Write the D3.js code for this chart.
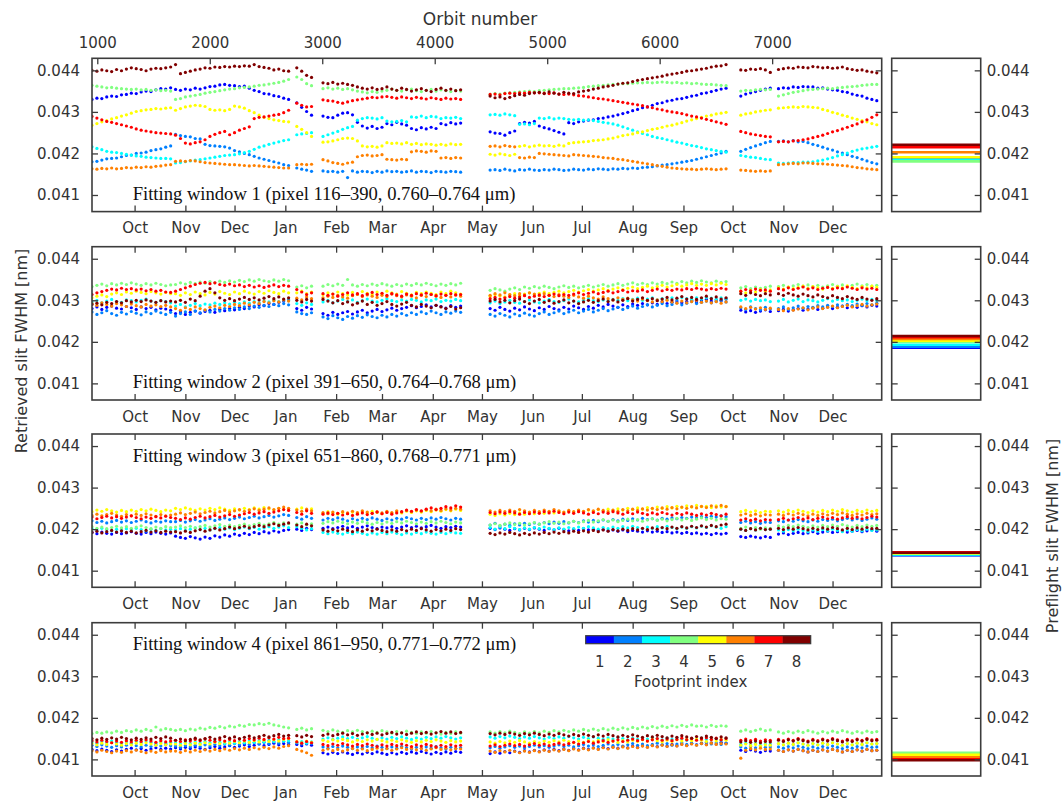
<!DOCTYPE html>
<html>
<head>
<meta charset="utf-8">
<script src="https://cdn.jsdelivr.net/npm/d3@7"></script>
<style>
  body { margin: 0; background: #fff; }
  text { font-family: "DejaVu Sans", sans-serif; fill: #333; }
</style>
</head>
<body>
<svg id="chart" width="1064" height="803"></svg>
<script>
// ---------------------------------------------------------------
// Observation periods (days since 2014-09-05), sampled every 3 days
// ---------------------------------------------------------------
const periods = [[0, 48], [51, 120], [125, 134], [141, 225], [243, 387], [396, 414], [419, 479]];
const sampleStep = 3;
const startDate = new Date(2014, 8, 5);
const endDate = new Date(2015, 11, 31);

const orbitDomain = [953, 7974];
const orbitTicks = [1000, 2000, 3000, 4000, 5000, 6000, 7000];
const monthTicks = ["2014-10-01", "2014-11-01", "2014-12-01", "2015-01-01", "2015-02-01", "2015-03-01",
  "2015-04-01", "2015-05-01", "2015-06-01", "2015-07-01", "2015-08-01", "2015-09-01",
  "2015-10-01", "2015-11-01", "2015-12-01"];
const monthLabels = ["Oct", "Nov", "Dec", "Jan", "Feb", "Mar", "Apr", "May", "Jun", "Jul", "Aug", "Sep", "Oct", "Nov", "Dec"];
const yTicks = [0.041, 0.042, 0.043, 0.044];

const footprints = [1, 2, 3, 4, 5, 6, 7, 8];
const footprintColors = ["#0000ff", "#0080ff", "#00ffff", "#80ff80", "#ffff00", "#ff8000", "#ff0000", "#800000"];

const windowLabels = [
  "Fitting window 1 (pixel 116–390, 0.760–0.764 μm)",
  "Fitting window 2 (pixel 391–650, 0.764–0.768 μm)",
  "Fitting window 3 (pixel 651–860, 0.768–0.771 μm)",
  "Fitting window 4 (pixel 861–950, 0.771–0.772 μm)"
];

// Retrieved slit FWHM, units of 1e-5 nm; one sub-array per observation period
const valueUnit = 1e-5;

// ---- Fitting window 1 ----
const w1f1 = [
  [4330,4333,4332,4336,4338,4337,4341,4342,4345,4344,4348,4350,4349,4353,4356,4355,4358],
  [4354,4352,4355,4353,4357,4355,4358,4361,4362,4365,4366,4364,4363,4361,4362,4357,4352,4349,4344,4343,4339,4337,4333,4330],
  [4322,4311,4301,4292],
  [4290,4287,4286,4292,4297,4298,4293,4275,4266,4261,4265,4260,4263,4272,4269,4275,4271,4268,4260,4257,4262,4259,4263,4260,4272,4269,4274,4271,4273],
  [4252,4249,4248,4244,4250,4254,4272,4275,4273,4277,4266,4262,4259,4255,4251,4247,4274,4272,4276,4278,
   4280,4281,4284,4285,4288,4290,4293,4296,4299,4303,4306,4310,4312,4316,4320,4322,4326,4328,4331,4332,
   4335,4338,4340,4344,4346,4349,4352,4355,4357],
  [4338,4343,4346,4349,4352,4355,4357],
  [4356,4358,4357,4360,4359,4361,4360,4360,4357,4358,4355,4353,4352,4349,4347,4343,4340,4338,4333,4330,4327]
];
const w1f2 = [
  [4180,4181,4184,4187,4188,4189,4192,4195,4196,4200,4201,4203,4207,4209,4211,4215,4218],
  [4246,4243,4241,4240,4236,4235,4222,4219,4218,4217,4216,4213,4207,4204,4200,4197,4193,4189,4186,4183,4180,4177,4173,4171],
  [4165,4162,4160,4157],
  [4158,4156,4157,4155,4157,4142,4158,4155,4157,4156,4154,4157,4155,4158,4156,4157,4155,4156,4158,4155,4157,4156,4154,4157,4156,4155,4157,4156,4155],
  [4160,4161,4159,4162,4160,4158,4161,4160,4162,4160,4159,4161,4160,4162,4161,4159,4160,4162,4161,4160,
   4162,4161,4163,4162,4161,4163,4162,4164,4163,4165,4164,4166,4167,4168,4170,4172,4173,4175,4177,4179,
   4181,4183,4186,4189,4192,4195,4198,4201,4205],
  [4205,4210,4214,4218,4222,4226,4229],
  [4229,4230,4228,4231,4228,4229,4226,4222,4219,4215,4211,4208,4204,4201,4197,4193,4190,4186,4182,4178,4175]
];
const w1f3 = [
  [4216,4212,4209,4205,4203,4202,4200,4198,4196,4194,4193,4191,4190,4189,4188,4188,4187],
  [4177,4178,4180,4182,4184,4185,4187,4189,4191,4193,4195,4196,4197,4199,4202,4205,4210,4215,4218,4222,4225,4228,4231,4233],
  [4245,4247,4248,4250],
  [4241,4245,4249,4253,4258,4262,4265,4280,4284,4286,4285,4283,4286,4278,4276,4277,4279,4276,4288,4287,4290,4286,4289,4288,4284,4286,4285,4287,4284],
  [4293,4294,4292,4295,4293,4291,4270,4271,4269,4272,4285,4284,4286,4283,4285,4284,4282,4281,4282,4280,
   4281,4279,4277,4275,4273,4271,4268,4264,4260,4256,4252,4248,4245,4241,4238,4236,4233,4230,4227,4225,
   4222,4219,4217,4214,4211,4209,4207,4205,4203],
  [4195,4193,4191,4190,4188,4186,4185],
  [4177,4176,4177,4178,4178,4179,4179,4180,4182,4184,4187,4190,4194,4197,4201,4205,4208,4211,4213,4215,4217]
];
const w1f4 = [
  [4364,4362,4360,4358,4359,4357,4356,4355,4354,4355,4353,4354,4352,4353,4351,4352,4350],
  [4330,4332,4336,4338,4340,4342,4345,4347,4349,4351,4353,4355,4356,4358,4359,4360,4362,4364,4365,4367,4369,4371,4374,4378],
  [4384,4378,4368,4363],
  [4356,4358,4355,4357,4354,4356,4353,4350,4348,4346,4349,4347,4350,4352,4355,4352,4350,4353,4355,4351,4349,4352,4354,4350,4353,4351,4349,4352,4350],
  [4342,4344,4343,4345,4346,4347,4348,4349,4350,4349,4351,4352,4353,4354,4355,4356,4356,4357,4358,4359,
   4361,4362,4363,4364,4365,4366,4367,4368,4368,4369,4370,4370,4371,4370,4371,4372,4371,4370,4371,4369,
   4370,4368,4369,4367,4366,4366,4365,4364,4363],
  [4350,4352,4351,4353,4354,4353,4354],
  [4338,4341,4344,4347,4349,4351,4353,4354,4355,4356,4357,4356,4358,4359,4360,4361,4362,4364,4365,4366,4366]
];
const w1f5 = [
  [4268,4272,4276,4279,4283,4286,4290,4293,4297,4301,4303,4305,4306,4308,4307,4309,4310],
  [4304,4308,4312,4314,4316,4315,4313,4306,4304,4305,4303,4306,4314,4312,4309,4303,4298,4292,4287,4284,4281,4279,4277,4276],
  [4265,4258,4250,4241],
  [4227,4228,4230,4233,4236,4237,4236,4230,4218,4216,4217,4215,4218,4226,4224,4225,4223,4226,4222,4224,4221,4223,4222,4220,4222,4220,4223,4221,4222],
  [4198,4196,4199,4197,4195,4198,4217,4219,4216,4218,4220,4218,4219,4217,4220,4218,4224,4226,4227,4228,
   4229,4231,4232,4233,4235,4237,4240,4243,4245,4247,4250,4252,4255,4258,4260,4263,4266,4268,4271,4274,
   4278,4281,4284,4287,4290,4292,4295,4297,4299],
  [4292,4295,4297,4300,4302,4304,4305],
  [4309,4310,4311,4312,4311,4313,4312,4311,4310,4306,4303,4299,4296,4292,4289,4285,4282,4279,4276,4272,4269]
];
const w1f6 = [
  [4163,4162,4164,4163,4165,4163,4164,4166,4165,4167,4166,4168,4167,4169,4170,4172,4173],
  [4181,4182,4181,4183,4182,4180,4178,4177,4176,4175,4174,4173,4173,4172,4171,4170,4171,4170,4169,4168,4167,4166,4165,4165],
  [4173,4174,4173,4174],
  [4185,4182,4178,4176,4174,4177,4179,4192,4195,4196,4194,4195,4197,4186,4185,4184,4186,4185,4204,4206,4205,4203,4206,4205,4189,4190,4188,4190,4189],
  [4217,4218,4216,4219,4217,4216,4190,4189,4191,4190,4200,4199,4198,4197,4196,4195,4194,4197,4196,4195,
   4194,4193,4192,4190,4189,4188,4186,4185,4183,4181,4179,4177,4175,4173,4171,4169,4167,4165,4164,4163,
   4162,4162,4161,4162,4163,4162,4161,4162,4163],
  [4160,4159,4158,4157,4158,4157,4158],
  [4173,4174,4175,4176,4175,4177,4177,4176,4175,4175,4174,4173,4172,4171,4170,4168,4166,4165,4163,4162,4161]
];
const w1f7 = [
  [4289,4285,4281,4277,4275,4272,4269,4266,4263,4259,4256,4254,4252,4250,4249,4248,4247],
  [4244,4236,4225,4223,4226,4228,4233,4241,4246,4250,4253,4245,4250,4256,4260,4264,4284,4287,4288,4290,4292,4294,4298,4304],
  [4321,4316,4312,4313],
  [4329,4327,4326,4323,4321,4324,4327,4329,4331,4333,4335,4334,4336,4337,4335,4333,4336,4334,4332,4335,4333,4331,4334,4332,4330,4333,4331,4332,4330],
  [4342,4343,4341,4344,4345,4344,4346,4345,4347,4346,4346,4345,4344,4346,4343,4342,4343,4341,4339,4338,
   4336,4334,4332,4331,4329,4327,4325,4323,4321,4319,4317,4315,4312,4310,4307,4305,4302,4300,4298,4296,
   4293,4290,4288,4285,4282,4279,4276,4273,4270],
  [4253,4250,4247,4245,4243,4241,4240],
  [4228,4229,4228,4230,4231,4233,4235,4238,4241,4244,4248,4252,4255,4259,4263,4267,4271,4276,4281,4287,4293]
];
const w1f8 = [
  [4400,4398,4401,4399,4397,4402,4399,4403,4406,4404,4402,4399,4403,4405,4404,4406,4408],
  [4414,4392,4395,4398,4401,4403,4406,4405,4408,4407,4409,4408,4410,4409,4411,4410,4414,4409,4407,4405,4401,4403,4399,4398],
  [4406,4398,4388,4383],
  [4370,4368,4371,4367,4369,4366,4364,4360,4357,4355,4358,4354,4356,4360,4355,4352,4357,4354,4350,4353,4356,4352,4349,4354,4357,4352,4355,4351,4353],
  [4338,4334,4336,4332,4335,4339,4342,4340,4344,4346,4347,4344,4348,4345,4343,4347,4345,4344,4348,4350,
   4352,4355,4357,4360,4362,4364,4367,4369,4370,4373,4376,4378,4380,4382,4384,4386,4389,4391,4393,4395,
   4398,4399,4401,4403,4405,4408,4410,4411,4414],
  [4401,4400,4403,4402,4404,4401,4395],
  [4402,4404,4406,4405,4408,4407,4406,4409,4408,4406,4407,4405,4406,4408,4404,4402,4400,4401,4398,4396,4394]
];

// ---- Fitting window 2 ----
const w2f1 = [
  [4280,4284,4278,4283,4286,4281,4279,4285,4282,4278,4284,4280,4283,4277,4281,4279,4276],
  [4268,4272,4266,4271,4274,4269,4273,4276,4271,4278,4275,4280,4277,4283,4280,4286,4284,4289,4287,4292,4290,4295,4298,4301],
  [4280,4276,4283,4279],
  [4268,4264,4271,4266,4270,4273,4267,4272,4276,4270,4274,4278,4273,4277,4281,4276,4280,4283,4287,4282,4285,4289,4284,4288,4285,4281,4287,4283,4286],
  [4280,4276,4283,4278,4274,4281,4277,4284,4279,4275,4282,4278,4285,4280,4277,4283,4279,4286,4282,4278,
   4285,4281,4288,4284,4290,4286,4283,4289,4285,4291,4288,4292,4289,4294,4290,4296,4292,4295,4298,4294,
   4297,4300,4296,4299,4302,4298,4301,4299,4303],
  [4276,4272,4275,4271,4274,4277,4273],
  [4275,4278,4274,4277,4280,4276,4279,4282,4278,4281,4284,4280,4283,4286,4282,4285,4283,4287,4284,4288,4286]
];
const w2f2 = [
  [4272,4266,4270,4275,4268,4264,4271,4267,4273,4269,4265,4272,4268,4274,4270,4266,4271],
  [4262,4268,4272,4266,4274,4270,4276,4272,4278,4274,4280,4276,4282,4278,4284,4280,4286,4283,4288,4285,4290,4287,4292,4289],
  [4272,4268,4266,4270],
  [4260,4256,4263,4258,4254,4261,4257,4263,4259,4265,4261,4258,4264,4260,4266,4262,4268,4264,4270,4266,4272,4268,4274,4270,4266,4272,4269,4274,4271],
  [4266,4262,4268,4264,4260,4267,4263,4269,4265,4262,4268,4272,4266,4270,4274,4268,4272,4276,4270,4274,
   4278,4272,4276,4280,4275,4279,4283,4278,4282,4286,4281,4285,4289,4284,4288,4292,4287,4290,4294,4289,
   4293,4297,4292,4295,4298,4294,4297,4300,4296],
  [4282,4278,4284,4280,4277,4283,4279],
  [4280,4284,4278,4282,4286,4281,4285,4283,4287,4284,4288,4285,4289,4286,4290,4287,4291,4288,4292,4289,4293]
];
const w2f3 = [
  [4296,4300,4294,4298,4302,4297,4295,4301,4299,4296,4300,4303,4298,4295,4299,4297,4294],
  [4286,4290,4284,4288,4292,4287,4291,4289,4293,4290,4294,4291,4295,4292,4296,4293,4297,4294,4298,4296,4300,4297,4301,4299],
  [4292,4288,4294,4290],
  [4296,4300,4294,4298,4302,4297,4301,4295,4299,4303,4298,4296,4300,4304,4299,4297,4301,4298,4302,4300,4296,4301,4299,4303,4297,4300,4298,4302,4299],
  [4294,4298,4292,4296,4300,4295,4293,4297,4301,4296,4294,4298,4302,4297,4295,4299,4303,4298,4296,4300,
   4304,4299,4297,4301,4298,4302,4300,4304,4299,4302,4305,4300,4303,4306,4301,4304,4302,4306,4303,4307,
   4304,4302,4306,4303,4307,4305,4302,4306,4304],
  [4300,4303,4298,4302,4299,4301,4297],
  [4298,4302,4296,4300,4303,4297,4301,4299,4296,4300,4304,4298,4302,4299,4301,4297,4300,4303,4299,4302,4300]
];
const w2f4 = [
  [4333,4336,4339,4335,4340,4337,4341,4338,4342,4339,4336,4340,4337,4341,4338,4335,4337],
  [4338,4342,4339,4343,4340,4344,4341,4345,4342,4346,4343,4347,4344,4348,4345,4349,4346,4350,4347,4345,4349,4346,4350,4347],
  [4332,4335,4330,4334],
  [4334,4338,4335,4339,4336,4350,4337,4334,4338,4335,4339,4336,4340,4337,4334,4338,4335,4339,4336,4340,4337,4341,4338,4335,4339,4336,4340,4337,4341],
  [4324,4328,4325,4322,4327,4330,4326,4332,4329,4333,4330,4334,4331,4328,4332,4335,4331,4334,4330,4333,
   4336,4332,4335,4338,4334,4337,4340,4336,4339,4342,4338,4341,4338,4342,4339,4343,4340,4344,4341,4345,
   4342,4346,4343,4347,4344,4342,4346,4343,4345],
  [4330,4333,4328,4332,4329,4331,4334],
  [4333,4336,4332,4335,4338,4334,4337,4333,4336,4332,4335,4338,4334,4337,4333,4336,4339,4335,4338,4334,4336]
];
const w2f5 = [
  [4306,4310,4313,4309,4315,4318,4314,4320,4317,4322,4319,4316,4321,4318,4315,4319,4316],
  [4316,4312,4318,4314,4320,4316,4313,4319,4315,4321,4317,4314,4320,4316,4322,4318,4315,4321,4317,4323,4319,4316,4322,4318],
  [4318,4322,4316,4320],
  [4314,4318,4315,4320,4316,4313,4319,4315,4321,4317,4314,4320,4316,4322,4318,4315,4321,4317,4313,4319,4316,4320,4317,4314,4320,4316,4322,4318,4315],
  [4310,4314,4311,4308,4313,4316,4312,4315,4318,4314,4317,4320,4316,4319,4322,4318,4321,4324,4320,4323,
   4326,4322,4325,4328,4324,4327,4330,4326,4329,4332,4328,4331,4334,4330,4333,4336,4332,4335,4338,4334,
   4337,4340,4336,4339,4336,4340,4337,4341,4338],
  [4322,4318,4324,4320,4326,4322,4325],
  [4330,4327,4332,4328,4331,4334,4329,4333,4330,4327,4332,4329,4333,4330,4335,4331,4328,4333,4330,4334,4331]
];
const w2f6 = [
  [4292,4288,4294,4290,4286,4292,4289,4285,4291,4287,4284,4290,4286,4289,4285,4288,4284],
  [4280,4276,4282,4278,4284,4280,4277,4283,4286,4282,4288,4285,4290,4287,4293,4289,4295,4292,4297,4294,4299,4296,4301,4298],
  [4305,4301,4308,4304],
  [4306,4310,4307,4312,4308,4305,4311,4314,4309,4313,4310,4307,4312,4309,4315,4311,4308,4313,4310,4306,4312,4309,4314,4310,4307,4312,4308,4313,4310],
  [4312,4316,4313,4318,4314,4311,4316,4313,4318,4315,4311,4316,4312,4309,4314,4310,4307,4312,4308,4305,
   4310,4306,4303,4308,4304,4301,4306,4302,4305,4301,4298,4303,4299,4296,4301,4297,4300,4296,4293,4298,
   4294,4297,4300,4295,4298,4294,4297,4293,4296],
  [4284,4280,4283,4279,4282,4278,4281],
  [4278,4275,4280,4276,4279,4282,4277,4281,4284,4280,4283,4286,4282,4285,4288,4284,4287,4290,4286,4289,4291]
];
const w2f7 = [
  [4314,4318,4321,4324,4327,4325,4329,4326,4328,4325,4327,4323,4326,4322,4324,4320,4319],
  [4322,4326,4330,4334,4338,4341,4343,4340,4342,4338,4336,4339,4335,4337,4333,4336,4332,4335,4331,4334,4337,4333,4336,4334],
  [4326,4320,4314,4318],
  [4316,4312,4315,4310,4314,4318,4313,4316,4311,4315,4319,4314,4317,4312,4316,4313,4310,4315,4312,4316,4313,4317,4314,4311,4315,4312,4316,4313,4314],
  [4304,4307,4303,4306,4309,4305,4308,4311,4307,4310,4313,4309,4312,4315,4311,4314,4312,4315,4318,4314,
   4317,4320,4316,4319,4322,4318,4321,4324,4320,4323,4322,4325,4321,4324,4327,4323,4326,4324,4327,4325,
   4328,4326,4329,4327,4325,4328,4326,4329,4327],
  [4322,4326,4323,4327,4324,4325,4322],
  [4328,4325,4330,4326,4329,4332,4327,4330,4326,4329,4331,4327,4330,4328,4332,4329,4326,4330,4327,4329,4326]
];
const w2f8 = [
  [4290,4293,4289,4295,4292,4297,4294,4299,4296,4300,4297,4301,4298,4295,4299,4296,4298],
  [4296,4300,4295,4303,4299,4310,4322,4328,4318,4306,4300,4304,4299,4303,4307,4302,4306,4301,4305,4309,4304,4308,4303,4306],
  [4300,4296,4302,4298],
  [4302,4298,4294,4299,4292,4296,4289,4293,4298,4290,4295,4288,4292,4297,4290,4286,4291,4295,4288,4284,4290,4286,4282,4288,4284,4280,4285,4279,4282],
  [4298,4302,4296,4300,4294,4299,4303,4297,4292,4298,4302,4295,4299,4293,4297,4301,4294,4298,4292,4296,
   4300,4295,4299,4303,4297,4301,4296,4300,4304,4298,4302,4306,4300,4304,4299,4303,4307,4301,4305,4309,
   4303,4307,4302,4306,4310,4304,4308,4303,4306],
  [4316,4312,4318,4314,4311,4316,4313],
  [4316,4312,4317,4313,4310,4315,4311,4308,4313,4309,4306,4311,4307,4304,4309,4305,4302,4307,4303,4300,4304]
];

// ---- Fitting window 3 ----
const w3f1 = [
  [4192,4189,4193,4190,4188,4192,4189,4191,4194,4190,4188,4192,4189,4193,4190,4188,4191],
  [4183,4180,4178,4182,4179,4176,4181,4178,4184,4181,4186,4183,4188,4185,4190,4187,4192,4189,4194,4191,4196,4193,4197,4199],
  [4200,4197,4202,4199],
  [4202,4205,4201,4204,4207,4203,4206,4202,4205,4208,4204,4201,4205,4203,4206,4202,4205,4208,4204,4207,4203,4206,4209,4205,4202,4206,4204,4207,4205],
  [4202,4199,4203,4200,4197,4201,4198,4202,4199,4203,4200,4197,4201,4198,4202,4199,4196,4200,4197,4201,
   4198,4200,4197,4199,4196,4198,4195,4198,4194,4197,4195,4193,4196,4193,4195,4192,4194,4191,4193,4190,
   4192,4189,4191,4188,4190,4187,4190,4188,4190],
  [4182,4180,4183,4181,4179,4182,4180],
  [4188,4191,4187,4190,4192,4189,4191,4194,4190,4193,4195,4192,4194,4196,4193,4195,4197,4194,4196,4198,4195]
];
const w3f2 = [
  [4220,4216,4219,4215,4218,4221,4217,4220,4216,4219,4222,4218,4215,4219,4217,4220,4218],
  [4218,4221,4217,4220,4223,4219,4222,4225,4221,4224,4227,4223,4226,4229,4225,4228,4231,4227,4230,4233,4229,4232,4235,4233],
  [4228,4224,4230,4226],
  [4222,4226,4223,4227,4224,4220,4225,4222,4226,4223,4227,4224,4221,4225,4222,4226,4224,4228,4225,4222,4226,4223,4227,4224,4228,4225,4222,4226,4224],
  [4210,4214,4208,4212,4209,4213,4210,4214,4211,4215,4212,4216,4213,4217,4214,4218,4215,4219,4216,4220,
   4217,4221,4218,4222,4219,4223,4220,4224,4221,4225,4222,4226,4223,4225,4222,4226,4224,4227,4225,4228,
   4226,4229,4227,4230,4228,4231,4229,4232,4230],
  [4216,4219,4215,4218,4214,4217,4216],
  [4220,4218,4222,4219,4223,4220,4218,4222,4219,4223,4221,4224,4220,4223,4226,4222,4225,4221,4224,4227,4224]
];
const w3f3 = [
  [4201,4198,4202,4199,4196,4200,4197,4201,4198,4202,4199,4196,4200,4197,4201,4198,4200],
  [4198,4201,4197,4200,4203,4199,4202,4198,4201,4204,4200,4203,4199,4202,4205,4201,4204,4200,4203,4206,4202,4205,4208,4204],
  [4206,4202,4198,4201],
  [4192,4189,4193,4190,4188,4192,4189,4193,4190,4187,4191,4188,4192,4189,4193,4190,4187,4191,4188,4192,4189,4193,4190,4188,4192,4189,4193,4191,4190],
  [4204,4200,4205,4201,4206,4202,4199,4203,4200,4204,4201,4205,4202,4199,4203,4200,4204,4201,4205,4202,
   4206,4203,4200,4204,4201,4205,4202,4206,4203,4207,4204,4201,4205,4202,4206,4203,4207,4204,4201,4205,
   4202,4206,4203,4207,4204,4208,4205,4202,4206],
  [4200,4197,4201,4198,4202,4199,4200],
  [4198,4195,4199,4196,4200,4197,4194,4198,4195,4199,4196,4200,4197,4194,4198,4195,4199,4196,4200,4197,4198]
];
const w3f4 = [
  [4206,4202,4205,4201,4204,4207,4203,4206,4202,4205,4208,4204,4201,4205,4202,4206,4204],
  [4205,4208,4204,4207,4203,4206,4209,4205,4208,4211,4207,4210,4206,4209,4212,4208,4211,4214,4210,4213,4216,4212,4215,4213],
  [4212,4215,4210,4213],
  [4214,4218,4215,4219,4216,4213,4217,4214,4218,4215,4212,4216,4213,4217,4214,4218,4215,4219,4216,4213,4217,4214,4218,4215,4219,4216,4213,4217,4215],
  [4210,4213,4209,4212,4215,4211,4214,4210,4213,4216,4212,4215,4218,4214,4217,4213,4216,4219,4215,4218,
   4221,4217,4220,4223,4219,4222,4218,4221,4224,4220,4223,4219,4222,4225,4221,4224,4220,4223,4226,4222,
   4225,4221,4224,4227,4223,4226,4222,4225,4224],
  [4202,4205,4201,4204,4200,4203,4202],
  [4208,4205,4209,4206,4210,4207,4204,4208,4205,4209,4206,4210,4207,4211,4208,4205,4209,4206,4210,4207,4209]
];
const w3f5 = [
  [4242,4246,4243,4247,4244,4241,4245,4242,4246,4243,4247,4244,4248,4245,4242,4246,4244],
  [4250,4247,4251,4248,4245,4249,4246,4250,4247,4251,4248,4245,4249,4246,4250,4247,4251,4248,4252,4249,4246,4250,4247,4249],
  [4248,4251,4246,4249],
  [4238,4242,4239,4236,4240,4237,4241,4238,4242,4239,4243,4240,4237,4241,4238,4242,4239,4243,4240,4244,4241,4245,4242,4246,4243,4247,4244,4248,4245],
  [4236,4233,4237,4234,4238,4235,4239,4236,4240,4237,4241,4238,4242,4239,4243,4240,4244,4241,4245,4242,
   4246,4243,4247,4244,4248,4245,4249,4246,4250,4247,4251,4248,4252,4249,4253,4250,4254,4251,4255,4252,
   4256,4253,4257,4254,4255,4252,4256,4253,4255],
  [4242,4245,4241,4244,4240,4243,4242],
  [4244,4241,4245,4242,4246,4243,4240,4244,4241,4245,4242,4246,4243,4247,4244,4241,4245,4242,4246,4243,4245]
];
const w3f6 = [
  [4233,4236,4232,4235,4238,4234,4231,4235,4232,4236,4233,4237,4234,4231,4235,4232,4234],
  [4236,4239,4235,4238,4241,4237,4240,4243,4239,4242,4245,4241,4244,4247,4243,4246,4249,4245,4248,4251,4247,4250,4253,4250],
  [4246,4243,4248,4244],
  [4240,4237,4241,4238,4242,4239,4243,4240,4244,4241,4238,4242,4239,4243,4240,4244,4241,4245,4242,4246,4243,4247,4244,4248,4245,4249,4246,4250,4248],
  [4244,4241,4245,4242,4246,4243,4247,4244,4241,4245,4242,4246,4243,4247,4244,4241,4245,4242,4246,4243,
   4247,4244,4248,4245,4242,4246,4243,4247,4244,4248,4245,4249,4246,4250,4247,4251,4248,4252,4249,4253,
   4250,4254,4251,4255,4252,4256,4253,4257,4254],
  [4234,4237,4233,4236,4232,4235,4234],
  [4236,4233,4237,4234,4238,4235,4232,4236,4233,4237,4234,4238,4235,4239,4236,4233,4237,4234,4238,4235,4237]
];
const w3f7 = [
  [4229,4225,4228,4231,4227,4230,4226,4229,4232,4228,4225,4229,4226,4230,4227,4231,4228],
  [4226,4223,4227,4224,4228,4231,4227,4230,4233,4229,4232,4235,4231,4234,4237,4240,4236,4239,4242,4238,4241,4244,4247,4245],
  [4240,4236,4244,4238],
  [4236,4239,4235,4238,4234,4237,4233,4236,4239,4235,4238,4241,4237,4240,4236,4239,4242,4246,4243,4247,4244,4248,4251,4247,4250,4254,4251,4256,4253],
  [4240,4237,4241,4238,4242,4239,4236,4240,4237,4241,4238,4242,4239,4243,4240,4237,4241,4238,4242,4239,
   4236,4240,4237,4241,4238,4242,4239,4236,4240,4237,4241,4238,4235,4239,4236,4240,4237,4234,4238,4235,
   4239,4236,4233,4237,4234,4238,4235,4232,4236],
  [4222,4225,4221,4224,4220,4223,4222],
  [4223,4226,4222,4225,4228,4224,4227,4223,4226,4229,4225,4228,4224,4227,4230,4226,4229,4225,4228,4231,4229]
];
const w3f8 = [
  [4192,4195,4191,4194,4197,4193,4196,4192,4195,4191,4194,4197,4193,4196,4192,4195,4193],
  [4194,4191,4195,4192,4196,4199,4195,4198,4202,4198,4201,4205,4201,4204,4207,4203,4206,4209,4206,4210,4213,4209,4212,4215],
  [4210,4206,4212,4208],
  [4198,4195,4199,4196,4200,4197,4194,4198,4195,4199,4196,4200,4197,4194,4198,4195,4199,4196,4200,4197,4201,4198,4195,4199,4196,4200,4197,4201,4199],
  [4190,4187,4191,4188,4192,4189,4186,4190,4187,4191,4188,4192,4189,4193,4190,4194,4191,4195,4192,4196,
   4193,4197,4194,4198,4195,4199,4196,4200,4197,4201,4198,4202,4199,4203,4200,4204,4201,4205,4202,4206,
   4203,4207,4204,4208,4205,4209,4206,4210,4212],
  [4200,4197,4201,4198,4202,4199,4200],
  [4202,4199,4203,4200,4204,4201,4198,4202,4199,4203,4200,4204,4201,4198,4202,4199,4203,4200,4204,4201,4202]
];

// ---- Fitting window 4 ----
const w4f1 = [
  [4124,4121,4125,4122,4119,4123,4120,4124,4127,4123,4126,4122,4125,4128,4124,4127,4125],
  [4128,4125,4129,4126,4130,4127,4124,4128,4131,4127,4130,4133,4129,4132,4135,4131,4134,4137,4133,4136,4139,4135,4138,4136],
  [4136,4133,4137,4134],
  [4116,4113,4117,4114,4118,4115,4112,4116,4113,4117,4114,4118,4115,4112,4116,4113,4117,4114,4118,4115,4119,4116,4113,4117,4114,4118,4115,4119,4117],
  [4114,4118,4115,4119,4116,4120,4117,4121,4118,4122,4119,4123,4120,4124,4121,4125,4122,4126,4123,4127,
   4124,4128,4125,4129,4126,4130,4127,4131,4128,4132,4129,4133,4130,4134,4131,4135,4132,4136,4133,4137,
   4134,4138,4135,4139,4136,4140,4137,4141,4139],
  [4122,4119,4123,4120,4117,4121,4120],
  [4122,4119,4123,4120,4124,4121,4118,4122,4119,4123,4120,4124,4121,4118,4122,4119,4123,4120,4124,4121,4122]
];
const w4f2 = [
  [4134,4131,4135,4132,4129,4133,4130,4134,4137,4133,4130,4134,4131,4135,4132,4136,4133],
  [4132,4129,4133,4130,4134,4131,4135,4132,4136,4133,4137,4134,4138,4135,4139,4136,4140,4137,4141,4138,4142,4139,4143,4141],
  [4140,4137,4141,4138],
  [4130,4127,4131,4128,4132,4129,4126,4130,4127,4131,4128,4132,4129,4126,4130,4127,4131,4128,4125,4129,4126,4130,4127,4131,4128,4125,4129,4126,4128],
  [4128,4131,4127,4130,4133,4129,4132,4128,4131,4134,4130,4133,4129,4132,4135,4131,4134,4130,4133,4136,
   4132,4135,4131,4134,4137,4133,4136,4132,4135,4138,4134,4137,4133,4136,4139,4135,4138,4134,4137,4140,
   4136,4139,4135,4138,4141,4137,4140,4136,4139],
  [4130,4127,4131,4128,4132,4129,4130],
  [4130,4127,4131,4128,4132,4129,4126,4130,4127,4131,4128,4132,4129,4126,4130,4127,4131,4128,4132,4129,4130]
];
const w4f3 = [
  [4142,4139,4143,4140,4144,4141,4138,4142,4139,4143,4140,4144,4141,4138,4142,4139,4141],
  [4140,4137,4141,4138,4142,4139,4143,4140,4144,4141,4138,4142,4139,4143,4140,4144,4141,4145,4142,4146,4143,4147,4144,4145],
  [4140,4143,4139,4142],
  [4149,4152,4148,4151,4154,4150,4153,4149,4152,4155,4151,4148,4152,4149,4153,4150,4154,4151,4148,4152,4149,4153,4150,4154,4151,4155,4152,4149,4152],
  [4154,4151,4155,4152,4156,4153,4150,4154,4151,4155,4152,4149,4153,4150,4154,4151,4155,4152,4149,4153,
   4150,4154,4151,4148,4152,4149,4153,4150,4147,4151,4148,4152,4149,4153,4150,4147,4151,4148,4152,4149,
   4146,4150,4147,4151,4148,4152,4149,4146,4150],
  [4136,4139,4135,4138,4134,4137,4136],
  [4138,4135,4139,4136,4140,4137,4134,4138,4135,4139,4136,4140,4137,4134,4138,4135,4139,4136,4140,4137,4138]
];
const w4f4 = [
  [4162,4165,4163,4166,4164,4168,4165,4169,4167,4171,4168,4172,4169,4178,4171,4174,4172],
  [4170,4172,4169,4173,4171,4175,4173,4177,4175,4179,4176,4180,4178,4182,4180,4184,4183,4186,4184,4187,4183,4181,4178,4176],
  [4172,4175,4171,4174],
  [4170,4167,4171,4168,4165,4169,4166,4170,4167,4164,4168,4165,4169,4166,4163,4167,4164,4168,4165,4162,4166,4163,4167,4164,4161,4165,4162,4166,4163],
  [4166,4163,4167,4164,4168,4165,4162,4166,4163,4167,4164,4168,4165,4169,4166,4170,4167,4171,4168,4172,
   4169,4173,4170,4174,4171,4175,4172,4176,4173,4177,4174,4178,4175,4179,4176,4180,4177,4181,4178,4182,
   4179,4183,4180,4181,4178,4182,4179,4181,4180],
  [4168,4171,4167,4170,4173,4169,4171],
  [4166,4163,4167,4164,4168,4165,4169,4166,4163,4167,4164,4168,4165,4169,4166,4163,4167,4164,4168,4165,4167]
];
const w4f5 = [
  [4138,4135,4139,4136,4140,4137,4134,4138,4135,4139,4136,4140,4137,4134,4138,4135,4137],
  [4137,4134,4138,4135,4139,4136,4140,4137,4141,4138,4142,4139,4143,4140,4144,4141,4145,4142,4146,4143,4147,4144,4148,4150],
  [4143,4140,4144,4141],
  [4146,4143,4147,4144,4148,4145,4142,4146,4143,4147,4144,4148,4145,4142,4146,4143,4147,4144,4141,4145,4142,4146,4143,4147,4144,4141,4145,4142,4144],
  [4142,4139,4143,4140,4144,4141,4145,4142,4139,4143,4140,4144,4141,4145,4142,4146,4143,4140,4144,4141,
   4145,4142,4146,4143,4147,4144,4141,4145,4142,4146,4143,4147,4144,4148,4145,4142,4146,4143,4147,4144,
   4148,4145,4149,4146,4143,4147,4144,4148,4146],
  [4134,4137,4133,4136,4132,4135,4134],
  [4138,4135,4139,4136,4140,4137,4134,4138,4135,4139,4136,4140,4137,4134,4138,4135,4139,4136,4140,4137,4138]
];
const w4f6 = [
  [4121,4118,4122,4119,4116,4120,4117,4121,4118,4122,4119,4116,4120,4117,4121,4118,4120],
  [4120,4117,4121,4118,4122,4119,4123,4120,4124,4121,4125,4122,4126,4123,4127,4124,4128,4125,4129,4126,4130,4127,4131,4133],
  [4124,4120,4116,4110],
  [4122,4125,4121,4124,4120,4123,4126,4122,4125,4121,4124,4127,4123,4126,4122,4125,4128,4124,4127,4123,4126,4122,4125,4128,4124,4127,4123,4126,4125],
  [4120,4117,4121,4118,4122,4119,4116,4120,4117,4121,4118,4122,4119,4123,4120,4124,4121,4125,4122,4126,
   4123,4127,4124,4128,4125,4129,4126,4130,4127,4131,4128,4132,4129,4133,4130,4134,4131,4135,4132,4136,
   4133,4137,4134,4138,4135,4139,4136,4138,4137],
  [4103,4122,4126,4123,4127,4124,4125],
  [4122,4119,4123,4120,4124,4121,4118,4122,4119,4123,4120,4124,4121,4118,4122,4119,4123,4120,4124,4121,4122]
];
const w4f7 = [
  [4145,4142,4146,4143,4140,4144,4141,4145,4142,4146,4143,4147,4144,4141,4145,4142,4144],
  [4146,4143,4147,4144,4148,4145,4149,4146,4143,4147,4144,4148,4145,4149,4146,4150,4147,4151,4148,4152,4149,4153,4150,4151],
  [4142,4139,4143,4140],
  [4136,4133,4137,4134,4138,4135,4132,4136,4133,4137,4134,4131,4135,4132,4136,4133,4137,4134,4131,4135,4132,4136,4133,4130,4134,4131,4135,4132,4134],
  [4132,4135,4131,4134,4137,4133,4136,4132,4135,4138,4134,4137,4133,4136,4139,4135,4138,4141,4137,4140,
   4143,4139,4142,4145,4141,4144,4147,4143,4146,4149,4145,4148,4144,4147,4150,4146,4149,4145,4148,4151,
   4147,4150,4146,4149,4152,4148,4151,4147,4150],
  [4146,4149,4145,4148,4144,4147,4146],
  [4148,4145,4149,4146,4150,4147,4144,4148,4145,4149,4146,4150,4147,4144,4148,4145,4149,4146,4150,4147,4148]
];
const w4f8 = [
  [4150,4147,4151,4148,4152,4149,4153,4150,4147,4151,4148,4152,4149,4153,4150,4154,4151],
  [4146,4149,4145,4148,4151,4147,4150,4153,4149,4152,4155,4151,4154,4150,4153,4156,4152,4155,4158,4154,4157,4160,4156,4158],
  [4157,4154,4158,4155],
  [4158,4161,4157,4160,4163,4159,4162,4158,4161,4164,4160,4163,4159,4162,4165,4161,4164,4160,4163,4166,4162,4165,4161,4164,4167,4163,4166,4162,4165],
  [4162,4159,4163,4160,4164,4161,4158,4162,4159,4163,4160,4157,4161,4158,4162,4159,4156,4160,4157,4161,
   4158,4155,4159,4156,4160,4157,4154,4158,4155,4159,4156,4153,4157,4154,4158,4155,4152,4156,4153,4157,
   4154,4151,4155,4152,4156,4153,4150,4154,4152],
  [4142,4145,4141,4144,4140,4143,4142],
  [4146,4143,4147,4144,4148,4145,4142,4146,4143,4147,4144,4148,4145,4142,4146,4143,4147,4144,4148,4145,4146]
];

// Preflight slit FWHM per footprint 1..8 (units of 1e-5 nm)
const preflight1 = [4186, 4187, 4184, 4181, 4191, 4203, 4215, 4221];
const preflight2 = [4186, 4188, 4193, 4200, 4203, 4207, 4211, 4214];
const preflight3 = [4137, 4138, 4139, 4141, 4142, 4143, 4144, 4143];
const preflight4 = [4112, 4113, 4114, 4116, 4111, 4105, 4100, 4098];

const windowSeries = [
  [w1f1, w1f2, w1f3, w1f4, w1f5, w1f6, w1f7, w1f8],
  [w2f1, w2f2, w2f3, w2f4, w2f5, w2f6, w2f7, w2f8],
  [w3f1, w3f2, w3f3, w3f4, w3f5, w3f6, w3f7, w3f8],
  [w4f1, w4f2, w4f3, w4f4, w4f5, w4f6, w4f7, w4f8]
];
const windowPreflight = [preflight1, preflight2, preflight3, preflight4];

// ---------------------------------------------------------------
// Layout
// ---------------------------------------------------------------
const plotLeft = 92, plotRight = 881.7;
const sideLeft = 891.7, sideRight = 980.7;
const panelTops = [58.3, 246.7, 434, 622.7];
const panelH = 153.3;
const labelOffsets = [141.7, 141.3, 27.5, 27];
const yDomain = [0.04060, 0.04429];
const frameColor = "#3c3c3c";

const svg = d3.select("#chart");
const x = d3.scaleTime().domain([startDate, endDate]).range([plotLeft, plotRight]);
const orbitScale = d3.scaleLinear().domain(orbitDomain).range([plotLeft, plotRight]);
const monthDates = monthTicks.map(d3.timeParse("%Y-%m-%d"));
const sampleDays = periods.map(([a, b]) => d3.range(a, b + 1, sampleStep));
const dayDate = d => d3.timeDay.offset(startDate, d);

function styleAxis(g) {
  g.select(".domain").remove();
  g.selectAll(".tick line").attr("stroke", frameColor).attr("stroke-width", 1.3);
  g.selectAll(".tick text").attr("font-size", 15).style("fill", "#333")
    .style("font-family", "'DejaVu Sans', sans-serif");
}

windowSeries.forEach((series, w) => {
  const top = panelTops[w];
  const y = d3.scaleLinear().domain(yDomain).range([top + panelH, top]);
  const panel = svg.append("g");

  svg.append("clipPath").attr("id", "clip" + w)
    .append("rect").attr("x", plotLeft).attr("y", top)
    .attr("width", plotRight - plotLeft).attr("height", panelH);

  // retrieved values, footprint 1 drawn first
  const dots = panel.append("g").attr("clip-path", `url(#clip${w})`);
  series.forEach((segs, f) => {
    const pts = segs.flatMap((vals, s) => vals.map((v, k) => [sampleDays[s][k], v]))
      .filter(d => d[0] !== undefined);
    dots.append("g").selectAll("circle").data(pts).join("circle")
      .attr("cx", d => x(dayDate(d[0])))
      .attr("cy", d => y(d[1] * valueUnit))
      .attr("r", 1.6)
      .attr("fill", footprintColors[f]);
  });

  // axes of the time-series panel
  panel.append("g").attr("transform", `translate(${plotLeft},0)`)
    .call(d3.axisLeft(y).tickValues(yTicks).tickSize(-6).tickPadding(12).tickFormat(d3.format(".3f")))
    .call(styleAxis);
  panel.append("g").attr("transform", `translate(${plotRight},0)`)
    .call(d3.axisRight(y).tickValues(yTicks).tickSize(-6).tickFormat(""))
    .call(styleAxis);
  panel.append("g").attr("transform", `translate(0,${top + panelH})`)
    .call(d3.axisBottom(x).tickValues(monthDates).tickSize(-6).tickPadding(11)
      .tickFormat((d, i) => monthLabels[i]))
    .call(styleAxis);
  if (w === 0) {
    panel.append("g").attr("transform", `translate(0,${top})`)
      .call(d3.axisTop(orbitScale).tickValues(orbitTicks).tickSize(-6).tickPadding(10).tickFormat(d3.format("d")))
      .call(styleAxis);
  } else {
    panel.append("g").attr("transform", `translate(0,${top})`)
      .call(d3.axisTop(x).tickValues(monthDates).tickSize(-6).tickFormat(""))
      .call(styleAxis);
  }
  panel.append("rect")
    .attr("x", plotLeft).attr("y", top)
    .attr("width", plotRight - plotLeft).attr("height", panelH)
    .attr("fill", "none").attr("stroke", frameColor).attr("stroke-width", 1.6);

  panel.append("text")
    .attr("x", 132.7).attr("y", top + labelOffsets[w])
    .style("font-family", "'Liberation Serif', 'Times New Roman', serif")
    .style("font-size", "18.6px").style("fill", "#111")
    .text(windowLabels[w]);

  // preflight side panel
  const side = svg.append("g");
  windowPreflight[w].forEach((v, f) => {
    side.append("line")
      .attr("x1", sideLeft).attr("x2", sideRight)
      .attr("y1", y(v * valueUnit)).attr("y2", y(v * valueUnit))
      .attr("stroke", footprintColors[f]).attr("stroke-width", 2.6);
  });
  side.append("g").attr("transform", `translate(${sideLeft},0)`)
    .call(d3.axisLeft(y).tickValues(yTicks).tickSize(-6).tickFormat(""))
    .call(styleAxis);
  side.append("g").attr("transform", `translate(${sideRight},0)`)
    .call(d3.axisRight(y).tickValues(yTicks).tickSize(-6).tickPadding(6).tickFormat(d3.format(".3f")))
    .call(styleAxis);
  side.append("rect")
    .attr("x", sideLeft).attr("y", top)
    .attr("width", sideRight - sideLeft).attr("height", panelH)
    .attr("fill", "none").attr("stroke", frameColor).attr("stroke-width", 1.6);
});

// axis titles
svg.append("text").attr("x", 480).attr("y", 25).attr("text-anchor", "middle")
  .attr("font-size", 17).text("Orbit number");
svg.append("text").attr("transform", "translate(27,351) rotate(-90)").attr("text-anchor", "middle")
  .attr("font-size", 16).text("Retrieved slit FWHM [nm]");
svg.append("text").attr("transform", "translate(1058,536) rotate(-90)").attr("text-anchor", "middle")
  .attr("font-size", 16).text("Preflight slit FWHM [nm]");

// footprint colour bar
const band = d3.scaleBand().domain(footprints).range([585.7, 810.7]);
const legend = svg.append("g");
legend.selectAll("rect.sw").data(footprints).join("rect")
  .attr("class", "sw")
  .attr("x", d => band(d)).attr("y", 635.7)
  .attr("width", band.bandwidth() + 0.3).attr("height", 8)
  .attr("fill", (d, i) => footprintColors[i]);
legend.append("rect").attr("x", 585.7).attr("y", 635.7).attr("width", 225).attr("height", 8)
  .attr("fill", "none").attr("stroke", frameColor).attr("stroke-width", 1.2);
legend.selectAll("text.num").data(footprints).join("text")
  .attr("class", "num")
  .attr("x", d => band(d) + band.bandwidth() / 2).attr("y", 667)
  .attr("text-anchor", "middle").attr("font-size", 15).text(d => d);
legend.append("text").attr("x", 690.7).attr("y", 687).attr("text-anchor", "middle")
  .attr("font-size", 15).text("Footprint index");
</script>
</body>
</html>
